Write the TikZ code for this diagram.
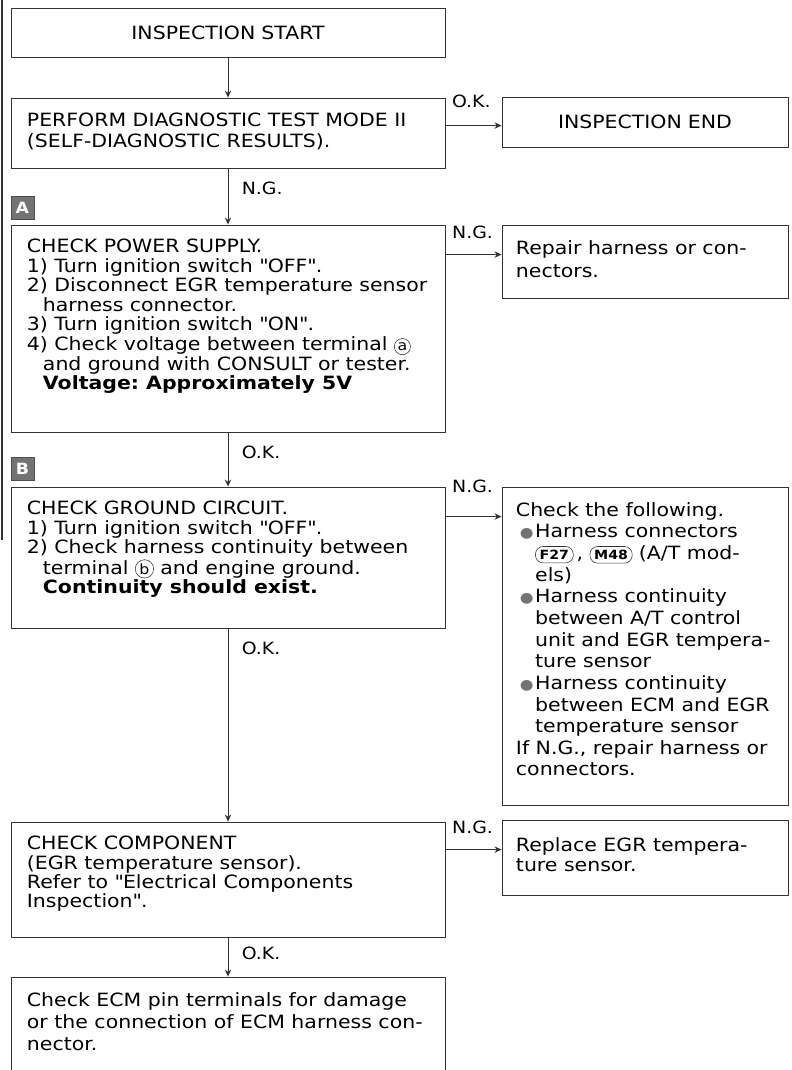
\documentclass[tikz,border=0pt]{standalone}
\usepackage{fontspec}
\setmainfont[FakeStretch=1.12]{DejaVu Sans}
\usetikzlibrary{arrows.meta}
\frenchspacing

\tikzset{inline/.style={draw=black!80, line width=0.4pt, fill=none, text=black, minimum width=0pt, minimum height=0pt, text width=, align=center}}
\newcommand{\steptext}[4][t]{\parbox[c][#2][#1]{#3}{\begin{tabular}{@{}l@{}}#4\end{tabular}}}
\newcommand{\term}[1]{\tikz[baseline=(t.base)]\node[inline, circle, inner sep=0.9pt, font=\fontsize{10}{10}\selectfont] (t) {#1};}
\newcommand{\conn}[1]{\tikz[baseline=(c.base)]\node[inline, rounded corners=5.5pt, inner xsep=3pt, inner ysep=2.5pt, font=\fontsize{9}{9}\bfseries\selectfont] (c) {#1};}
\newcommand{\itm}{\hspace*{0.1cm}\makebox[0.38cm][l]{\textcolor{black!55}{\fontsize{10}{10}\selectfont ●}}}
\newcommand{\ind}{\hspace*{0.48cm}}
\newcommand{\indL}{\hspace*{0.4cm}}
\newcommand{\q}{\textquotedbl}

\begin{document}
\begin{tikzpicture}[x=0.025cm, y=-0.025cm,
  stepbox/.style={draw=black!80, line width=0.6pt, minimum width=10.85cm, inner xsep=0.4cm, inner ysep=0.35cm, align=left, font=\fontsize{13}{13.5}\selectfont},
  sidebox/.style={stepbox, minimum width=7.15cm, inner xsep=0.35cm, font=\fontsize{13}{15.4}\selectfont},
  tag/.style={draw=black!70, fill=black!55, text=white, minimum size=0.58cm, inner sep=0pt, font=\fontsize{11}{11}\bfseries\selectfont},
  lbl/.style={inner sep=1pt, font=\fontsize{12}{12}\selectfont},
  arr/.style={draw=black!80, line width=0.6pt, -{Stealth[length=5pt,width=4.5pt]}}]

  \path[use as bounding box, clip] (0,0) rectangle (791,1070);
  \draw[black!80, line width=0.8pt] (2,0) -- (2,540);

  % left column
  \node[stepbox, minimum height=1.225cm, text width=10.05cm, align=center] (insstart) at (228,32.5) {INSPECTION START};
  \node[stepbox, font=\fontsize{13}{15}\selectfont] (perform) at (228,133)
    {\steptext[c]{1.05cm}{10.05cm}{PERFORM DIAGNOSTIC TEST MODE II\\(SELF-DIAGNOSTIC RESULTS).}};
  \node[stepbox] (chkpwr) at (228,328.5)
    {\steptext{4.475cm}{10.05cm}{CHECK POWER SUPPLY.\\
      1) Turn ignition switch \q OFF\q.\\
      2) Disconnect EGR temperature sensor\\
      \indL harness connector.\\
      3) Turn ignition switch \q ON\q.\\
      4) Check voltage between terminal \term{a}\\
      \indL and ground with CONSULT or tester.\\
      \indL\textbf{Voltage: Approximately 5V}}};
  \node[stepbox] (chkgnd) at (228,557.5)
    {\steptext{2.825cm}{10.05cm}{CHECK GROUND CIRCUIT.\\
      1) Turn ignition switch \q OFF\q.\\
      2) Check harness continuity between\\
      \indL terminal \term{b} and engine ground.\\
      \indL\textbf{Continuity should exist.}}};
  \node[stepbox, font=\fontsize{13}{13.2}\selectfont] (chkcomp) at (228,879.5)
    {\steptext{2.175cm}{10.05cm}{CHECK COMPONENT\\
      (EGR temperature sensor).\\
      Refer to \q Electrical Components\\
      Inspection\q.}};
  \node[stepbox, font=\fontsize{13}{15.6}\selectfont] (chkecm) at (228,1038.5)
    {\steptext{2.375cm}{10.05cm}{Check ECM pin terminals for damage\\
      or the connection of ECM harness con-\\
      nector.}};

  \node[tag, anchor=south west] (tagA) at ([yshift=0.12cm]chkpwr.north west) {A};
  \node[tag, anchor=south west] (tagB) at ([yshift=0.15cm]chkgnd.north west) {B};

  % right column
  \node[sidebox, minimum height=1.25cm, text width=6.45cm, align=center] (insend) at (645,122) {INSPECTION END};
  \node[sidebox, font=\fontsize{13}{16}\selectfont] (repair) at (645,261.5)
    {\steptext[c]{1.125cm}{6.45cm}{Repair harness or con-\\nectors.}};
  \node[sidebox] (chkfollow) at (645,646)
    {\steptext{7.25cm}{6.45cm}{Check the following.\\
      \itm Harness connectors\\
      \ind\conn{F27}\,,\ \conn{M48}\ (A/T mod-\\
      \ind els)\\
      \itm Harness continuity\\
      \ind between A/T control\\
      \ind unit and EGR tempera-\\
      \ind ture sensor\\
      \itm Harness continuity\\
      \ind between ECM and EGR\\
      \ind temperature sensor\\
      If N.G., repair harness or\\
      connectors.}};
  \node[sidebox, font=\fontsize{13}{14}\selectfont] (replace) at (645,857.5)
    {\steptext[c]{1.175cm}{6.45cm}{Replace EGR tempera-\\ture sensor.}};

  % connectors
  \draw[arr] (insstart.south) -- (perform.north);
  \draw[arr] (perform.south) -- node[lbl, pos=0, anchor=north west, xshift=0.3cm, yshift=-0.3cm] {N.G.} (chkpwr.north);
  \draw[arr] (chkpwr.south) -- node[lbl, pos=0, anchor=north west, xshift=0.3cm, yshift=-0.3cm] {O.K.} (chkgnd.north);
  \draw[arr] (chkgnd.south) -- node[lbl, pos=0, anchor=north west, xshift=0.3cm, yshift=-0.3cm] {O.K.} (chkcomp.north);
  \draw[arr] (chkcomp.south) -- node[lbl, pos=0, anchor=north west, xshift=0.3cm, yshift=-0.2cm] {O.K.} (chkecm.north);

  \draw[arr] ([yshift=-0.7cm]perform.north east) -- node[lbl, pos=0, anchor=south west, xshift=0.12cm, yshift=0.4cm] {O.K.} ([yshift=-0.7cm]perform.north east -| insend.west);
  \draw[arr] ([yshift=-0.75cm]chkpwr.north east) -- node[lbl, pos=0, anchor=south west, xshift=0.12cm, yshift=0.35cm] {N.G.} ([yshift=-0.75cm]chkpwr.north east -| repair.west);
  \draw[arr] ([yshift=-0.75cm]chkgnd.north east) -- node[lbl, pos=0, anchor=south west, xshift=0.12cm, yshift=0.55cm] {N.G.} ([yshift=-0.75cm]chkgnd.north east -| chkfollow.west);
  \draw[arr] ([yshift=-0.7cm]chkcomp.north east) -- node[lbl, pos=0, anchor=south west, xshift=0.12cm, yshift=0.35cm] {N.G.} ([yshift=-0.7cm]chkcomp.north east -| replace.west);
\end{tikzpicture}
\end{document}
